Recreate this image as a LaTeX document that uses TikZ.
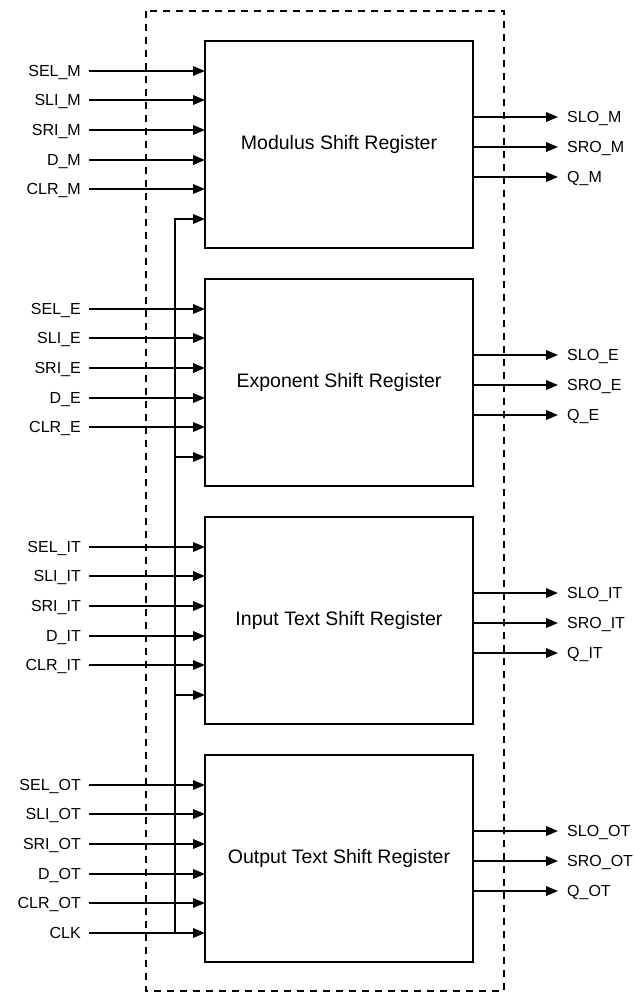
\documentclass[tikz,border=0pt]{standalone}
\usepackage{fontspec}
\setmainfont{Liberation Sans}
\usetikzlibrary{arrows.meta,calc}
\begin{document}
\begin{tikzpicture}[x=1pt,y=-1pt,
  reg/.style={draw,line width=1.3pt,minimum width=268pt,minimum height=207pt,
    anchor=north west,inner sep=0pt,outer sep=0pt,font=\fontsize{19.5}{22}\selectfont},
  inlbl/.style={anchor=east,inner sep=0pt,font=\fontsize{16}{18}\selectfont,
    text height=11.5pt,text depth=0pt},
  outlbl/.style={anchor=west,inner sep=0pt,font=\fontsize{16}{18}\selectfont,
    text height=11.5pt,text depth=0pt},
  sig/.style={line width=1.8pt,-{Triangle[length=12pt,width=9.5pt]}},
  frame/.style={line width=1.2pt,dash pattern=on 7pt off 6pt}]
\useasboundingbox (0,0) rectangle (633,994);
\draw[frame] (146,11) rectangle (504,991);
\foreach \g/\ytop/\sfx/\title in {M/41/M/Modulus Shift Register,
    E/279/E/Exponent Shift Register,
    IT/517/IT/Input Text Shift Register,
    OT/755/OT/Output Text Shift Register} {
  \node[reg] (\g) at (205,\ytop) {\title};
  \foreach \p [count=\k from 0] in {SEL,SLI,SRI,D,CLR} {
    \node[inlbl] (\g-\p) at (81,{round(\ytop+29.5+29.7*\k)}) {\p\_\sfx};
    \draw[sig] ([xshift=8pt]\g-\p.east) -- (\g-\p.east -| \g.west);
  }
  \foreach \p [count=\k from -1] in {SLO,SRO,Q} {
    \coordinate (\g-\p-src) at ([yshift={-(106+30*\k)*1pt}]\g.north east);
    \node[outlbl] (\g-\p) at ($(\g-\p-src)+(94,0)$) {\p\_\sfx};
    \draw[sig] (\g-\p-src) -- ([xshift=-9pt]\g-\p.west);
  }
  \coordinate (\g-clk) at (175,{\ytop+178});
}
% clock
\node[inlbl] (CLK) at (81,933) {CLK};
\draw[sig] ([xshift=8pt]CLK.east) -- (CLK.east -| OT.west);
\draw[sig] (OT-clk) |- (M-clk -| M.west);
\draw[sig] (E-clk) -- (E-clk -| E.west);
\draw[sig] (IT-clk) -- (IT-clk -| IT.west);
\end{tikzpicture}
\end{document}
